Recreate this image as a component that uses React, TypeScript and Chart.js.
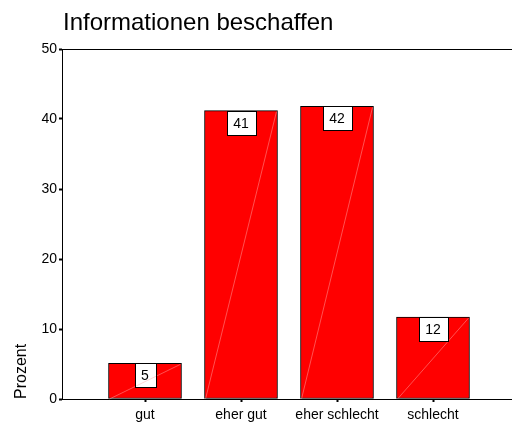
import React, { useEffect, useRef } from "react";
import { Chart, registerables } from "chart.js";

Chart.register(...registerables);

const categories = ["gut", "eher gut", "eher schlecht", "schlecht"];
const percentValues = [5.1, 41.2, 41.8, 11.7];
const valueLabels = ["5", "41", "42", "12"];
const yTicks = [0, 10, 20, 30, 40, 50];
const titleText = "Informationen beschaffen";
const yAxisLabel = "Prozent";

const FONT = "'Liberation Sans', Arial, sans-serif";

const decorPlugin = {
  id: "decor",
  afterDatasetsDraw(chart: any) {
    const ctx = chart.ctx;
    const meta = chart.getDatasetMeta(0);
    const yScale = chart.scales.y;
    const base = yScale.getPixelForValue(0);
    ctx.save();
    meta.data.forEach((bar: any, i: number) => {
      const w = bar.width;
      const left = bar.x - w / 2;
      const right = bar.x + w / 2;
      ctx.font = `14px ${FONT}`;
      const label = valueLabels[i];
      const tw = ctx.measureText(label).width;
      const bw = Math.round(tw + 13);
      const bh = 24;
      const bx = Math.round(bar.x - bw / 2) + 0.5;
      const by = Math.round(bar.y) + 0.5;
      ctx.fillStyle = "#ffffff";
      ctx.fillRect(bx, by, bw, bh);
      ctx.strokeStyle = "rgba(255,170,170,0.8)";
      ctx.lineWidth = 0.6;
      ctx.beginPath();
      ctx.moveTo(left + 1, base);
      ctx.lineTo(right - 1, bar.y + 1);
      ctx.stroke();
      ctx.strokeStyle = "#000000";
      ctx.lineWidth = 1;
      ctx.strokeRect(bx, by, bw, bh);
      ctx.fillStyle = "#000000";
      ctx.textAlign = "center";
      ctx.textBaseline = "middle";
      ctx.fillText(label, bar.x, by + bh / 2 + 1);
    });
    const area = chart.chartArea;
    ctx.strokeStyle = "#000000";
    ctx.lineWidth = 1;
    ctx.beginPath();
    ctx.moveTo(area.left, Math.round(area.top) + 0.5);
    ctx.lineTo(area.right, Math.round(area.top) + 0.5);
    ctx.stroke();
    ctx.fillStyle = "#000000";
    ctx.textAlign = "left";
    ctx.textBaseline = "alphabetic";
    ctx.font = `24px ${FONT}`;
    ctx.fillText(titleText, 63, 30);
    ctx.save();
    ctx.translate(25.5, base);
    ctx.rotate(-Math.PI / 2);
    ctx.font = `16px ${FONT}`;
    ctx.textAlign = "left";
    ctx.fillText(yAxisLabel, 0, 0);
    ctx.restore();
    ctx.restore();
  },
};

export default function App() {
  const ref = useRef<HTMLCanvasElement>(null);
  useEffect(() => {
    if (!ref.current) return;
    const chart = new Chart(ref.current, {
      type: "bar",
      data: {
        datasets: [
          {
            data: percentValues.map((v, i) => ({ x: i, y: v })),
            backgroundColor: "#ff0000",
            borderColor: "#000000",
            borderWidth: 1,
            borderSkipped: false,
            barThickness: 73,
          },
        ],
      },
      options: {
        responsive: false,
        animation: false,
        layout: { padding: { top: 49, left: 0, right: 0, bottom: 0 } },
        plugins: {
          legend: { display: false },
          tooltip: { enabled: false },
          title: { display: false },
        },
        scales: {
          x: {
            type: "linear",
            offset: false,
            min: -0.8646,
            max: 3.8229,
            afterBuildTicks: (scale: any) => {
              scale.ticks = categories.map((_, i) => ({ value: i }));
            },
            afterFit: (scale: any) => {
              scale.height = 29;
            },
            ticks: {
              callback: (v: any) => categories[v] ?? "",
              font: { size: 14, family: FONT },
              color: "#000000",
              padding: 5,
              maxRotation: 0,
              autoSkip: false,
            },
            grid: {
              display: true,
              offset: false,
              drawOnChartArea: false,
              tickLength: 3,
              tickColor: "#000000",
              tickWidth: 2,
            },
            border: { display: true, color: "#000000", width: 1 },
          },
          y: {
            min: 0,
            max: 50,
            afterBuildTicks: (scale: any) => {
              scale.ticks = yTicks.map((v) => ({ value: v }));
            },
            afterFit: (scale: any) => {
              scale.width = 62;
            },
            ticks: {
              font: { size: 14, family: FONT },
              color: "#000000",
              padding: 2,
            },
            grid: {
              display: true,
              drawOnChartArea: false,
              tickLength: 3,
              tickColor: "#000000",
              tickWidth: 2,
            },
            border: { display: true, color: "#000000", width: 1 },
          },
        },
      },
      plugins: [decorPlugin],
    } as any);
    return () => chart.destroy();
  }, []);
  return (
    <div style={{ position: "absolute", left: 0, top: 0, width: 512, height: 428 }}>
      <canvas ref={ref} width={512} height={428} style={{ width: 512, height: 428 }} />
    </div>
  );
}
